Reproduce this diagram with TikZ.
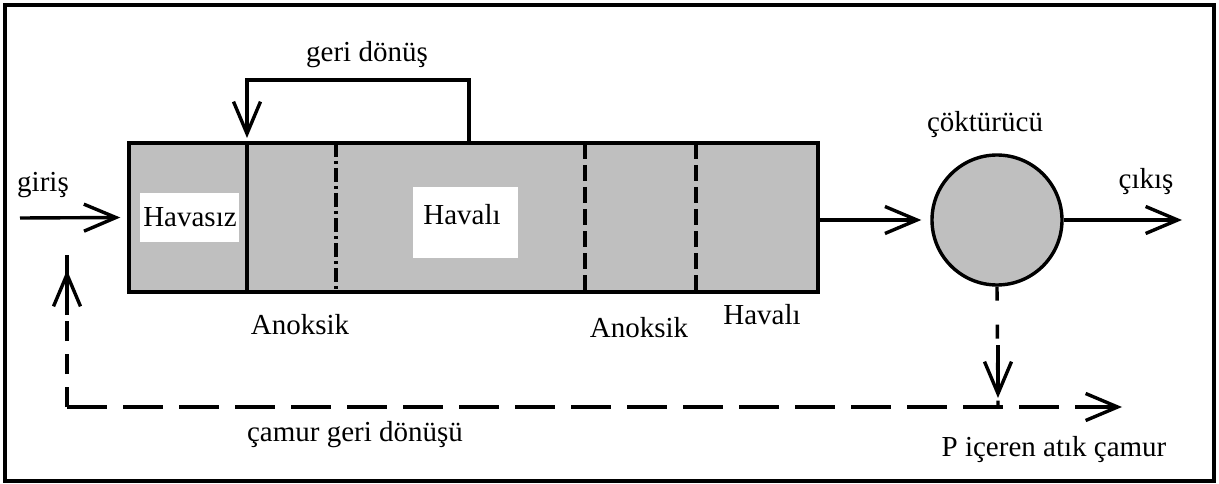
\documentclass[tikz,border=0pt]{standalone}
\usepackage{fontspec}
\setmainfont{Liberation Serif}
\usetikzlibrary{arrows.meta}
\tikzset{
  lw/.style={line width=3.4pt},
  arr/.style={lw,-{Straight Barb[length=32pt,width=27pt,line width=3.4pt]}},
  lbl/.style={font=\fontsize{29}{30}\selectfont, inner sep=0pt},
  tankbox/.style={draw, lw, fill=gray!50, minimum width=689pt, minimum height=149pt, inner sep=0pt},
  settler/.style={draw, lw, fill=gray!50, circle, minimum size=130pt, inner sep=0pt},
  whitebox/.style={fill=white, inner sep=0pt},
  longdash/.style={dash pattern=on 40pt off 16pt},
  vdash/.style={dash pattern=on 20pt off 13pt},
  divdash/.style={lw, dash pattern=on 16pt off 6pt},
  divdashdot/.style={lw, dash pattern=on 14pt off 4pt on 3pt off 4pt},
}
\begin{document}
\begin{tikzpicture}[x=1pt,y=-1pt]
\useasboundingbox (0,0) rectangle (1219,484);
\draw[lw] (5,5) rectangle (1214,481);
% tank
\node[tankbox] (tank) at (473.5,217.5) {};
\node[whitebox, minimum width=99pt, minimum height=49pt] (hvzbox) at (189.5,217.5) {};
\node[lbl] (havasiz) at (190,217) {Havasız};
\node[whitebox, minimum width=105pt, minimum height=71pt] (hvlbox) at (465.5,222.5) {};
\node[lbl] (havali1) at (462,215) {Havalı};
% dividers
\coordinate (d1t) at (247,143); \coordinate (d1b) at (247,292);
\coordinate (d2t) at (336,143); \coordinate (d2b) at (336,292);
\coordinate (d3t) at (585,143); \coordinate (d3b) at (585,292);
\coordinate (d4t) at (696,143); \coordinate (d4b) at (696,292);
\draw[lw] (d1t) -- (d1b);
\draw[divdashdot] (d2t) -- (d2b);
\draw[divdash] (d3t) -- (d3b);
\draw[divdash] (d4t) -- (d4b);
% labels under tank
\node[lbl] (anoksik1) at (300,325) {Anoksik};
\node[lbl] (anoksik2) at (639,328) {Anoksik};
\node[lbl] (havali2) at (762,315) {Havalı};
% internal recycle
\coordinate (r1) at (469,143);
\coordinate (r2) at (247,138);
\node[lbl] (geri) at (367,55) {geri dönüş};
\draw[arr] (r1) -- (469,80) -| (r2);
% inlet
\coordinate (inl) at (20,218);
\node[lbl] (giris) at (43,185) {giriş};
\draw[arr] (inl) -- ([xshift=-7pt]tank.west);
% settler
\node[settler] (sett) at (997,220) {};
\node[lbl] (cokturucu) at (985,125) {çöktürücü};
\draw[arr] (tank.east |- sett.west) -- ([xshift=-9pt]sett.west);
% outlet
\coordinate (out) at (1182,220);
\node[lbl] (cikis) at (1146,182) {çıkış};
\draw[arr] (sett.east) -- (out);
% sludge
\coordinate (corner) at (67,407);
\coordinate (sj) at (998,407);
\coordinate (wend) at (1122,407);
\coordinate (rtop) at (67,243);
\draw[lw, longdash] (corner) -- (wend);
\draw[arr] ([xshift=-30pt]wend) -- (wend);
\draw[lw, vdash] (corner) -- (rtop);
\draw[arr] (67,315) -- (67,270);
\draw[lw, dash pattern=on 14pt off 24pt] (sett.south) -- (sj);
\draw[arr] (998,345) -- (998,398);
\node[lbl] (camur) at (355,435) {çamur geri dönüşü};
\node[lbl] (atik) at (1054,450) {P içeren atık çamur};
\end{tikzpicture}
\end{document}
